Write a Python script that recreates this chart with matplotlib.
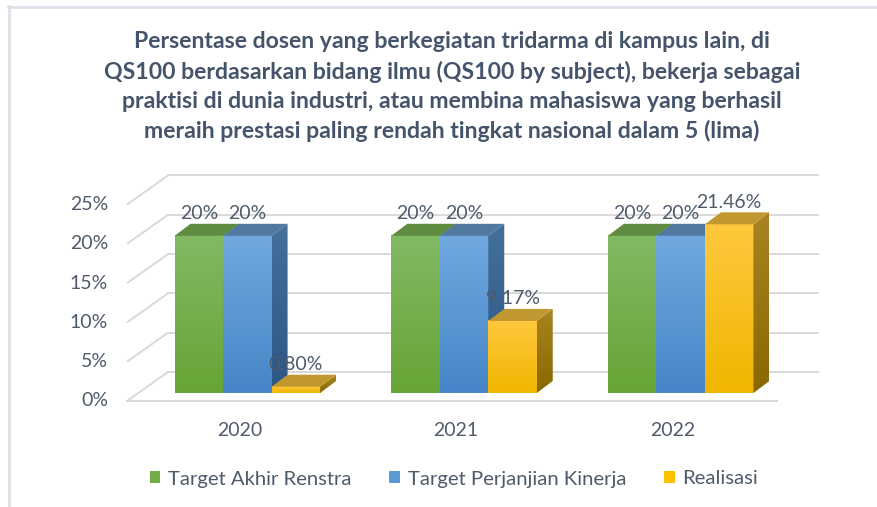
import numpy as np
import matplotlib
matplotlib.use("Agg")
import matplotlib.pyplot as plt
from matplotlib.patches import Polygon, Patch
from matplotlib.colors import LinearSegmentedColormap
from matplotlib.lines import Line2D

# ---------------- data ----------------
years = ["2020", "2021", "2022"]
target_renstra = [20, 20, 20]
target_pk = [20, 20, 20]
realisasi = [0.80, 9.17, 21.46]
series_names = ["Target Akhir Renstra", "Target Perjanjian Kinerja", "Realisasi"]
yticks = [0, 5, 10, 15, 20, 25]
title_lines = [
    "Persentase dosen yang berkegiatan tridarma di kampus lain, di",
    "QS100 berdasarkan bidang ilmu (QS100 by subject), bekerja sebagai",
    "praktisi di dunia industri, atau membina mahasiswa yang berhasil",
    "meraih prestasi paling rendah tingkat nasional dalam 5 (lima)",
]

# ---------------- style ----------------
plt.rcParams["font.family"] = ["Lato", "DejaVu Sans"]
TXT = "#4F5B6B"
TITLE_C = "#44546A"
GRID_C = "#D9D9D9"
# (front top, front bottom, side top, side bottom, top face, legend)
palettes = [
    ("#82b963", "#66a536", "#54803a", "#44692c", "#5f8c40", "#70ad47"),
    ("#70a8df", "#4686c8", "#44709c", "#2d5684", "#52799f", "#5b9bd5"),
    ("#ffc83e", "#f0b600", "#a88422", "#8a6800", "#c1972f", "#ffc000"),
]
series = [target_renstra, target_pk, realisasi]

W, H = 877, 507
fig = plt.figure(figsize=(W / 100, H / 100), dpi=100)
ax = fig.add_axes([0, 0, 1, 1])
ax.axis("off")

X0 = 127.0          # pixel x of front-left floor corner
SLOT = 650.0 / 3    # pixel width of one category slot
Y0 = 401.0          # pixel row of front floor
PX = 7.86           # pixels per percent


def dx(p):
    return p / SLOT


def dy(p):
    return p / PX


xlim = (-X0 / SLOT - 0.5, (W - X0) / SLOT - 0.5)
ylim = ((Y0 - H) / PX, Y0 / PX)

n = len(years)
x_left, x_right = -0.5, n - 0.5
WALL_DX, WALL_DY = 41, 29

# gridlines / walls
for v in yticks:
    ax.plot([x_left, x_left + dx(WALL_DX)], [v, v + dy(WALL_DY)],
            color=GRID_C, lw=1.4, zorder=1, solid_capstyle="butt")
    ax.plot([x_left + dx(WALL_DX), x_right + dx(WALL_DX)],
            [v + dy(WALL_DY)] * 2, color=GRID_C, lw=1.4, zorder=1)
    ax.text(x_left - dx(19), v, f"{v}%", ha="right", va="center",
            fontsize=14, color=TXT)
ax.plot([x_left, x_right], [0, 0], color=GRID_C, lw=1.4, zorder=1)

# bars
FOX, FOY = 12, 8      # front-face offset into depth
BDX, BDY = 16, 12     # bar depth
BW = 48.5 / SLOT
grad = np.linspace(1, 0, 64).reshape(-1, 1)

for i in range(n):
    for j, vals in enumerate(series):
        v = vals[i]
        ftop, fbot, stop, sbot, topc, _ = palettes[j]
        xl = i + dx(FOX) + (j - 1.5) * BW
        xr = xl + BW
        b = dy(FOY)
        t = b + v
        z = 2 + i * 3 + j
        cm_f = LinearSegmentedColormap.from_list("f", [fbot, ftop])
        ax.imshow(grad, extent=(xl, xr, b, t), aspect="auto", cmap=cm_f,
                  vmin=0, vmax=1, zorder=z, interpolation="bilinear")
        side = Polygon([(xr, b), (xr + dx(BDX), b + dy(BDY)),
                        (xr + dx(BDX), t + dy(BDY)), (xr, t)],
                       closed=True, facecolor="none", edgecolor="none", zorder=z)
        ax.add_patch(side)
        cm_s = LinearSegmentedColormap.from_list("s", [sbot, stop])
        im = ax.imshow(grad, extent=(xr, xr + dx(BDX), b, t + dy(BDY)),
                       aspect="auto", cmap=cm_s, vmin=0, vmax=1, zorder=z,
                       interpolation="bilinear")
        im.set_clip_path(side)
        top = Polygon([(xl, t), (xr, t), (xr + dx(BDX), t + dy(BDY)),
                       (xl + dx(BDX), t + dy(BDY))], closed=True,
                      facecolor=topc, edgecolor="none", zorder=z)
        ax.add_patch(top)
        lab = f"{v:.0f}%" if float(v).is_integer() else f"{v:.2f}%"
        ax.text((xl + xr) / 2, t + dy(22), lab, ha="center", va="center",
                fontsize=14, color=TXT, zorder=50)

# category labels
for i, yr in enumerate(years):
    ax.text(i + dx(4), -dy(29), yr, ha="center", va="center",
            fontsize=14, color=TXT)

ax.set_xlim(*xlim)
ax.set_ylim(*ylim)

# title
for k, line in enumerate(title_lines):
    fig.text(452 / W, 1 - (42 + k * 29.6) / H, line, ha="center",
             va="center", fontsize=16.6, fontweight="bold", color=TITLE_C)

# legend
handles = [Patch(facecolor=p[5], edgecolor="none") for p in palettes]
fig.legend(handles, series_names, loc="center", ncol=3, frameon=False,
           bbox_to_anchor=(454 / W, 1 - 479 / H), fontsize=14.6,
           handlelength=0.52, handleheight=0.52, handletextpad=0.4,
           columnspacing=1.85, labelcolor=TXT)

# outer border (left + top)
fig.add_artist(Line2D([9 / W, 9 / W], [0, 1 - 6 / H], color="#DDE2EA", lw=2,
                      transform=fig.transFigure))
fig.add_artist(Line2D([8 / W, 1], [1 - 7 / H, 1 - 7 / H], color="#DDE2EA",
                      lw=2, transform=fig.transFigure))

fig.savefig("out.png", dpi=100, facecolor="white")
